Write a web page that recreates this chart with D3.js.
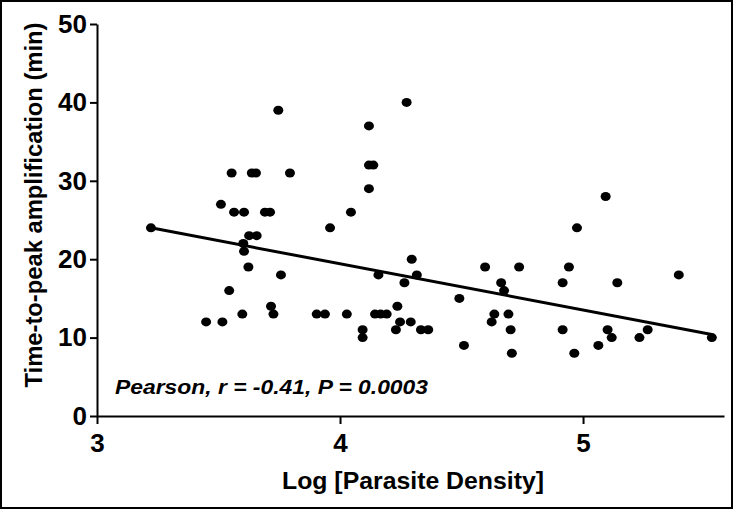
<!DOCTYPE html>
<html>
<head>
<meta charset="utf-8">
<script src="https://cdn.jsdelivr.net/npm/d3@7"></script>
<style>
  html, body { margin: 0; padding: 0; background: #fff; }
  svg { display: block; }
  text { font-family: "Liberation Sans", Arial, sans-serif; }
</style>
</head>
<body>
<div id="chart"></div>
<script>
// ---- data ----
const logDensity = [
  3.222, 3.449, 3.516, 3.510, 3.544, 3.554, 3.564, 3.605, 3.598, 3.602,
  3.605, 3.623, 3.626, 3.657, 3.637, 3.654, 3.691, 3.712, 3.716, 3.726,
  3.746, 3.757, 3.794, 3.904, 3.938, 3.959, 4.028, 4.045, 4.093, 4.093,
  4.119, 4.119, 4.137, 4.119, 4.144, 4.167, 4.192, 4.158, 4.230, 4.236,
  4.247, 4.265, 4.274, 4.291, 4.295, 4.316, 4.333, 4.363, 4.491, 4.510,
  4.597, 4.624, 4.635, 4.663, 4.675, 4.693, 4.702, 4.707, 4.737, 4.916,
  4.916, 4.942, 4.964, 4.975, 5.063, 5.093, 5.101, 5.118, 5.141, 5.232,
  5.266, 5.394, 5.530
];
const timeToPeak = [
  24, 12, 12, 27, 16, 31, 26, 26, 13, 22,
  21, 19, 23, 23, 31, 31, 26, 26, 14, 13,
  39, 18, 31, 13, 13, 24, 13, 26, 11, 10,
  37, 32, 32, 29, 13, 13, 13, 18, 11, 14,
  12, 17, 40, 12, 20, 18, 11, 11, 15, 9,
  19, 12, 13, 17, 16, 13, 11, 8, 19, 17,
  11, 19, 8, 24, 9, 28, 11, 10, 17, 10,
  11, 18, 10
];
const fitX = [3.222, 5.53];
const fitY = [24.0, 10.4];
const xTicks = [3, 4, 5];
const yTicks = [0, 10, 20, 30, 40, 50];
const xTitle = "Log [Parasite Density]";
const yTitle = "Time-to-peak amplification (min)";
const statText = "Pearson, r = -0.41, P = 0.0003";

// ---- drawing ----
const W = 734, H = 510;
const svg = d3.select("#chart").append("svg")
  .attr("width", W).attr("height", H);

svg.append("rect")
  .attr("x", 1).attr("y", 1).attr("width", W - 3).attr("height", H - 3)
  .attr("fill", "#fff").attr("stroke", "#000").attr("stroke-width", 2);

const x = d3.scaleLinear().domain([3, 5.58]).range([97, 724]);
const y = d3.scaleLinear().domain([0, 50]).range([416, 24]);

const tickFont = g => g.selectAll("text")
  .attr("font-size", 26).attr("font-weight", "bold").attr("fill", "#000")
  .style("font-family", '"Liberation Sans", Arial, sans-serif');

// Y axis
const yAxis = svg.append("g").attr("transform", `translate(${x(3)},0)`)
  .call(d3.axisLeft(y).tickValues(yTicks).tickFormat(d3.format("d"))
    .tickSize(7).tickSizeOuter(0).tickPadding(3));
yAxis.selectAll("path, line").attr("stroke", "#000").attr("stroke-width", 2);
yAxis.call(tickFont);

// X axis
const xAxis = svg.append("g").attr("transform", `translate(0,${y(0)})`)
  .call(d3.axisBottom(x).tickValues(xTicks).tickFormat(d3.format("d"))
    .tickSize(8).tickSizeOuter(0).tickPadding(10));
xAxis.selectAll("path, line").attr("stroke", "#000").attr("stroke-width", 2);
xAxis.call(tickFont);

// Points
const pts = logDensity.map((v, i) => ({ x: v, y: timeToPeak[i] }));
svg.append("g").selectAll("ellipse").data(pts).join("ellipse")
  .attr("cx", d => x(d.x)).attr("cy", d => y(d.y))
  .attr("rx", 5).attr("ry", 4.5).attr("fill", "#000");

// Fit line
const fit = fitX.map((v, i) => ({ x: v, y: fitY[i] }));
svg.append("path").datum(fit)
  .attr("d", d3.line().x(d => x(d.x)).y(d => y(d.y)))
  .attr("stroke", "#000").attr("stroke-width", 3).attr("fill", "none");

// Titles
svg.append("text")
  .attr("x", (283 + 543) / 2).attr("y", 489)
  .attr("text-anchor", "middle").attr("font-size", 23).attr("font-weight", "bold")
  .attr("textLength", 262).attr("lengthAdjust", "spacingAndGlyphs")
  .text(xTitle);

svg.append("text")
  .attr("transform", "translate(42,205) rotate(-90)")
  .attr("text-anchor", "middle").attr("font-size", 24).attr("font-weight", "bold")
  .attr("textLength", 365).attr("lengthAdjust", "spacingAndGlyphs")
  .text(yTitle);

svg.append("text")
  .attr("x", 115).attr("y", 394)
  .attr("font-size", 20).attr("font-weight", "bold").attr("font-style", "italic")
  .attr("textLength", 313).attr("lengthAdjust", "spacingAndGlyphs")
  .text(statText);
</script>
</body>
</html>
